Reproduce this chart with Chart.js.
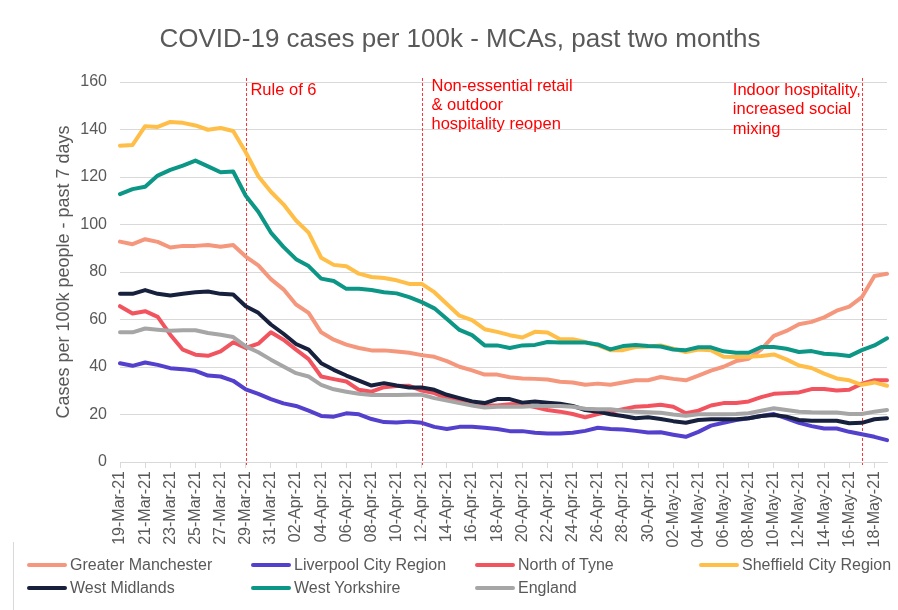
<!DOCTYPE html>
<html><head><meta charset="utf-8">
<script src="https://cdn.jsdelivr.net/npm/chart.js@4.4.1/dist/chart.umd.min.js"></script>
<style>
body{margin:0;background:#fff;}
#wrap{position:relative;width:898px;height:610px;overflow:hidden;font-family:'Liberation Sans',Arial,sans-serif;color:#595959;}
#title{position:absolute;top:23px;left:460px;transform:translateX(-50%);white-space:nowrap;font-size:26px;line-height:30px;}
#legend{position:absolute;left:0;top:0;width:898px;height:610px;pointer-events:none;}
.li{position:absolute;display:flex;align-items:center;font-size:16px;line-height:20px;white-space:nowrap;}
.sw{display:inline-block;width:40px;height:4px;border-radius:2px;margin-right:3px;}
#frame{position:absolute;left:13px;top:542px;width:1px;height:68px;background:#d9d9d9;}
canvas{position:absolute;left:0;top:0;}
</style></head><body>
<div id="wrap"><canvas id="c" width="898" height="610"></canvas><div id="title">COVID-19 cases per 100k - MCAs, past two months</div><div id="legend"></div><div id="frame"></div></div>
<script>
const labels = ['19-Mar-21','20-Mar-21','21-Mar-21','22-Mar-21','23-Mar-21','24-Mar-21','25-Mar-21','26-Mar-21','27-Mar-21','28-Mar-21','29-Mar-21','30-Mar-21','31-Mar-21',
'01-Apr-21','02-Apr-21','03-Apr-21','04-Apr-21','05-Apr-21','06-Apr-21','07-Apr-21','08-Apr-21','09-Apr-21','10-Apr-21','11-Apr-21','12-Apr-21','13-Apr-21','14-Apr-21','15-Apr-21','16-Apr-21','17-Apr-21','18-Apr-21','19-Apr-21','20-Apr-21','21-Apr-21','22-Apr-21','23-Apr-21','24-Apr-21','25-Apr-21','26-Apr-21','27-Apr-21','28-Apr-21','29-Apr-21','30-Apr-21',
'01-May-21','02-May-21','03-May-21','04-May-21','05-May-21','06-May-21','07-May-21','08-May-21','09-May-21','10-May-21','11-May-21','12-May-21','13-May-21','14-May-21','15-May-21','16-May-21','17-May-21','18-May-21','19-May-21'];

const greaterManchester = [92.8,91.7,93.8,92.7,90.3,91,91,91.4,90.6,91.4,86.5,82.8,77,72.7,66.3,62.8,54.6,51.5,49.4,48,47,47,46.5,46,45,44.3,42.5,40.1,38.6,36.8,36.8,35.7,35.2,35,34.7,33.8,33.5,32.5,33,32.5,33.5,34.4,34.4,35.8,35,34.4,36.4,38.5,40.1,42.5,43.5,47.4,53.1,55.2,58,59,60.9,63.7,65.4,69.4,78.3,79.3];
const liverpoolCityRegion = [41.6,40.5,41.9,40.9,39.5,39.1,38.4,36.4,36,34.2,30.6,28.7,26.5,24.7,23.6,21.6,19.4,19.1,20.5,20.1,18.1,16.8,16.6,17,16.5,14.8,13.9,14.8,14.8,14.4,13.9,13,13,12.3,12,12,12.3,13.1,14.4,13.9,13.7,13.1,12.4,12.5,11.5,10.6,12.7,15.3,16.5,17.7,18.4,19.4,20.2,18.4,16.5,15.1,14.1,14.1,12.7,11.7,10.6,9.2];
const northOfTyne = [65.6,62.5,63.5,61.1,53.6,47.3,45.2,44.7,46.6,50.4,48,49.8,54.6,51.5,47.3,43.3,36,34.9,33.9,30.4,29.6,31.5,32,32.1,30.1,29,26.9,25.5,24.8,23.8,23.8,24.3,24.3,23.1,21.9,21.2,20.2,18.8,20.2,21.2,22.2,23.3,23.6,24.1,23.3,20.5,21.6,23.8,24.8,24.8,25.5,27.3,28.7,29,29.3,30.7,30.7,30.1,30.4,33,34.4,34.4];
const sheffieldCityRegion = [133.2,133.5,141.4,141.1,143.2,142.8,141.7,139.9,140.6,139.4,130.4,120.3,113.8,108.5,101.7,96.6,86,83,82.4,79.3,77.9,77.5,76.5,75,75,71.5,66.5,61.6,59.7,55.9,54.8,53.4,52.4,54.8,54.5,51.7,51.7,50.5,49.1,47.1,47.1,48.4,48.6,49.1,47.7,46.3,47.4,47.1,44.3,44.2,44.3,44.6,45.3,43.2,40.6,39.6,37.2,35.2,34.4,32.5,33.5,32.1];
const westMidlands = [70.8,70.8,72.4,70.8,70.1,70.8,71.5,71.8,70.8,70.5,65.6,62.8,57.9,54,49.7,47.3,41.6,38.8,36.4,34.3,32.2,33.2,32.2,31.4,31.4,30.4,28.3,26.9,25.5,24.8,26.5,26.5,25,25.5,25,24.5,23.6,21.9,21.2,20.1,19.4,18.4,18.8,18.1,17.2,16.5,17.7,18,18,18,18.4,19.4,19.8,19.1,17.7,17.4,17.4,17.4,16.3,16.5,18,18.4];
const westYorkshire = [112.8,114.9,115.9,120.6,123,124.8,126.9,124.5,122,122.3,112.1,105.4,96.6,90.6,85.4,82.5,77.2,76.2,72.9,72.9,72.4,71.5,71,69.4,67.3,64.7,60.2,55.6,53.4,49.1,49.1,48,49.1,49.3,50.5,50.3,50.3,50.3,49.5,47.4,48.8,49.3,48.8,48.6,47.4,47.1,48.3,48.3,46.6,46,46,48.4,48.4,47.7,46.3,46.7,45.6,45.3,44.6,47.1,49.1,52.1];
const england = [54.6,54.6,56.2,55.7,55.3,55.5,55.5,54.3,53.6,52.6,48.7,46.2,43.1,40.2,37.4,36,32.5,30.6,29.6,28.7,28.2,28.2,28.2,28.3,28.3,26.9,25.9,24.8,23.8,22.9,23.3,23.3,23.3,23.6,23.6,23.6,23.3,22.4,22.2,22.2,21.6,21.2,20.9,20.7,20,19.5,20.1,20.1,20.1,20.2,20.5,21.6,22.6,21.9,21.2,20.9,20.8,20.8,20.2,20.2,21.2,21.9];

const seriesNames = ['Greater Manchester','Liverpool City Region','North of Tyne','Sheffield City Region','West Midlands','West Yorkshire','England'];
const seriesValues = [greaterManchester, liverpoolCityRegion, northOfTyne, sheffieldCityRegion, westMidlands, westYorkshire, england];
const seriesColors = ['#F5977C','#5341CD','#F2545F','#FFBE48','#17213D','#0B9686','#A6A6A6'];

const yTicks = [0,20,40,60,80,100,120,140,160];
const eventDates = ['29-Mar-21','12-Apr-21','17-May-21'];
const eventTexts = [['Rule of 6'],['Non-essential retail','& outdoor','hospitality reopen'],['Indoor hospitality,','increased social','mixing']];

const FONT = "'Liberation Sans', Arial, sans-serif";
const eventTextStyle = [{dx:4.7, y:94.5},{dx:9.7, y:90.8},{dx:-129, y:95}];

const eventPlugin = {
  id: 'events',
  beforeDatasetsDraw(chart) {
    const {ctx, chartArea, scales} = chart;
    ctx.save();
    ctx.strokeStyle = 'rgba(255,30,30,0.9)';
    ctx.lineWidth = 1;
    ctx.setLineDash([3, 2]);
    eventDates.forEach(d => {
      const px = Math.round(scales.x.getPixelForValue(labels.indexOf(d))) + 0.5;
      ctx.beginPath();
      ctx.moveTo(px, chartArea.top - 4);
      ctx.lineTo(px, chartArea.bottom + 3);
      ctx.stroke();
    });
    ctx.restore();
  },
  afterDatasetsDraw(chart) {
    const {ctx, scales} = chart;
    ctx.save();
    ctx.fillStyle = '#FF0000';
    ctx.font = '16.5px ' + FONT;
    ctx.textBaseline = 'alphabetic';
    ctx.textAlign = 'left';
    eventDates.forEach((d, k) => {
      const px = scales.x.getPixelForValue(labels.indexOf(d));
      const st = eventTextStyle[k];
      eventTexts[k].forEach((t, j) => ctx.fillText(t, px + st.dx, st.y + j * 19.3));
    });
    ctx.restore();
  }
};

const datasets = seriesNames.map((name, i) => ({
  label: name,
  data: seriesValues[i],
  borderColor: seriesColors[i],
  backgroundColor: seriesColors[i],
  borderWidth: 4,
  pointRadius: 0,
  tension: 0,
  fill: false,
  borderJoinStyle: 'round',
  borderCapStyle: 'round',
  order: seriesNames.length - i
}));

new Chart(document.getElementById('c'), {
  type: 'line',
  data: { labels, datasets },
  options: {
    responsive: false,
    devicePixelRatio: 1,
    animation: false,
    events: [],
    layout: { padding: { top: 82, right: 11, left: 0, bottom: 0 } },
    plugins: { legend: { display: false }, tooltip: { enabled: false }, title: { display: false } },
    scales: {
      x: {
        type: 'category',
        offset: false,
        afterFit(s) { s.height = 148; },
        grid: { display: true, drawOnChartArea: false, drawTicks: true, tickLength: 6, color: '#D9D9D9', lineWidth: 1 },
        border: { display: true, color: '#D9D9D9', width: 1 },
        ticks: {
          autoSkip: false, minRotation: 90, maxRotation: 90, padding: 3,
          color: '#595959', font: { family: FONT, size: 16 },
          callback(v, i) { return i % 2 === 0 ? labels[i] : null; }
        }
      },
      y: {
        min: yTicks[0], max: yTicks[yTicks.length - 1],
        afterFit(s) { s.width = 120; },
        afterBuildTicks(s) { s.ticks = yTicks.map(v => ({ value: v })); },
        grid: { color: '#D9D9D9', lineWidth: 1, drawTicks: false },
        border: { display: false },
        ticks: { padding: 13, color: '#595959', font: { family: FONT, size: 16 } },
        title: {
          display: true, text: 'Cases per 100k people - past 7 days',
          color: '#595959', font: { family: FONT, size: 18 }, padding: { top: 53, bottom: 0 }
        }
      }
    }
  },
  plugins: [eventPlugin]
});

const legend = document.getElementById('legend');
seriesNames.forEach((name, i) => {
  const col = i % 4, row = Math.floor(i / 4);
  const item = document.createElement('div');
  item.className = 'li';
  item.style.left = (27 + 224 * col) + 'px';
  item.style.top = (555 + 23 * row) + 'px';
  const sw = document.createElement('span');
  sw.className = 'sw';
  sw.style.background = seriesColors[i];
  const tx = document.createElement('span');
  tx.textContent = name;
  item.appendChild(sw); item.appendChild(tx);
  legend.appendChild(item);
});
</script>
</body></html>
